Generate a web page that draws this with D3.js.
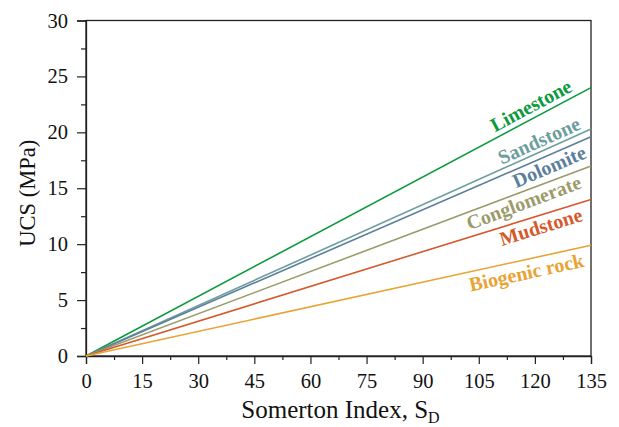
<!DOCTYPE html>
<html>
<head>
<meta charset="utf-8">
<script src="https://cdn.jsdelivr.net/npm/d3@7"></script>
<style>
  html, body { margin: 0; padding: 0; background: #fff; }
  svg { display: block; }
</style>
</head>
<body>
<svg id="chart" width="619" height="427"></svg>
<script>
// ---- data ----
const rockTypes = ["Limestone", "Sandstone", "Dolomite", "Conglomerate", "Mudstone", "Biogenic rock"];
// UCS (MPa) reached at SD = 135 for each rock type (lines through the origin)
const ucsAt135 = [24.0, 20.3, 19.6, 17.0, 14.0, 9.9];
const seriesColors = ["#0b9a3d", "#6c9e9d", "#5c7f9b", "#9b9b6b", "#d45a2d", "#e8a333"];
const xTicks = [0, 15, 30, 45, 60, 75, 90, 105, 120, 135];
const yTicks = [0, 5, 10, 15, 20, 25, 30];

// ---- layout ----
const FONT = "'Liberation Serif', 'Times New Roman', Times, serif";
const svg = d3.select("#chart");
const margin = { left: 86, right: 28, top: 20.5, bottom: 71 };
const W = 619, H = 427;
const x = d3.scaleLinear().domain([0, 135]).range([margin.left, W - margin.right]);
const y = d3.scaleLinear().domain([0, 30]).range([H - margin.bottom, margin.top]);

// label placement: SD along the line and side (+1 above, -1 below)
const labelAt = [120.5, 122.3, 122.7, 116, 120.7, 117];
const labelSide = [1, 1, -1, -1, -1, -1];
const labelOffset = [12.5, 11, 10.5, 10.5, 11, 12.5];

// frame
svg.append("rect")
  .attr("x", x(0)).attr("y", y(30))
  .attr("width", x(135) - x(0)).attr("height", y(0) - y(30))
  .attr("fill", "none").attr("stroke", "#222").attr("stroke-width", 1.3);

// x axis
svg.append("g").attr("transform", `translate(0,${y(0)})`)
  .call(d3.axisBottom(x).tickValues(xTicks).tickSize(8).tickPadding(9).tickFormat(d3.format("d")));
svg.append("g").attr("transform", `translate(0,${y(0)})`)
  .call(d3.axisBottom(x).tickValues(d3.range(7.5, 135, 15)).tickSize(4).tickFormat(""))
  .call(g => g.select(".domain").remove());

// y axis
svg.append("g").attr("transform", `translate(${x(0)},0)`)
  .call(d3.axisLeft(y).tickValues(yTicks).tickSize(9).tickPadding(9).tickFormat(d3.format("d")));
svg.append("g").attr("transform", `translate(${x(0)},0)`)
  .call(d3.axisLeft(y).tickValues(d3.range(2.5, 30, 5)).tickSize(5).tickFormat(""))
  .call(g => g.select(".domain").remove());

svg.selectAll(".domain").attr("stroke", "#222").attr("stroke-width", 1.3);
svg.selectAll(".tick line").attr("stroke", "#222").attr("stroke-width", 1.2);
svg.selectAll(".tick text")
  .style("font-family", FONT)
  .style("font-size", "20.5px").attr("fill", "#111");

// axis titles
const xt = svg.append("text")
  .attr("x", (x(0) + x(135)) / 2 + 2).attr("y", 418)
  .attr("text-anchor", "middle")
  .style("font-family", FONT).style("font-size", "25px").attr("fill", "#111");
xt.append("tspan").text("Somerton Index, S");
xt.append("tspan").style("font-size", "16px").attr("dy", 5).text("D");

svg.append("text")
  .attr("transform", `translate(35,${(y(0) + y(30)) / 2 + 5}) rotate(-90)`)
  .attr("text-anchor", "middle")
  .style("font-family", FONT).style("font-size", "22.5px").attr("fill", "#111")
  .text("UCS (MPa)");

// lines
const line = d3.line().x(d => x(d[0])).y(d => y(d[1]));
rockTypes.forEach((name, i) => {
  const slope = ucsAt135[i] / 135;
  svg.append("path")
    .datum([[0, 0], [135, ucsAt135[i]]])
    .attr("d", line)
    .attr("fill", "none")
    .attr("stroke", seriesColors[i])
    .attr("stroke-width", 1.6);

  // label along line
  const sd = labelAt[i];
  const px = x(sd), py = y(sd * slope);
  const dx = x(135) - x(0), dy = y(0) - y(ucsAt135[i]);
  const ang = Math.atan2(dy, dx);
  const off = labelOffset[i] * labelSide[i];
  const lx = px - Math.sin(ang) * off;
  const ly = py - Math.cos(ang) * off;
  svg.append("text")
    .attr("transform", `translate(${lx},${ly}) rotate(${-ang * 180 / Math.PI})`)
    .attr("text-anchor", "middle")
    .attr("dominant-baseline", "central")
    .style("font-family", FONT)
    .style("font-size", "20px")
    .style("font-weight", "bold")
    .attr("fill", seriesColors[i])
    .text(name);
});
</script>
</body>
</html>
